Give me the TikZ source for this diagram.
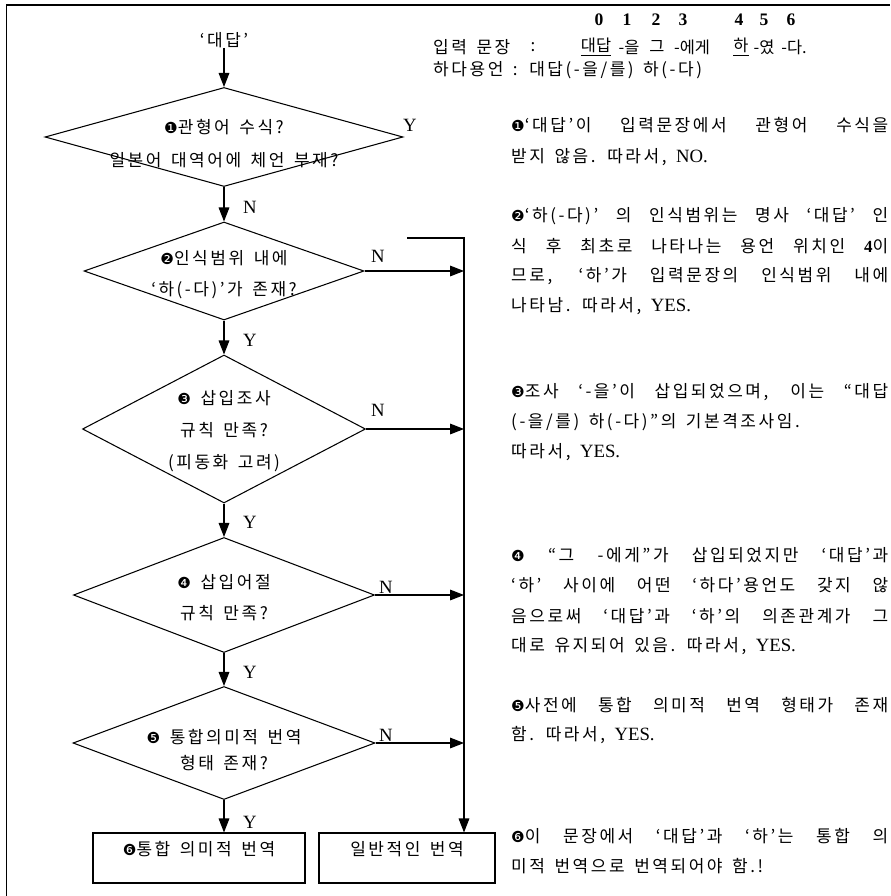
\documentclass[tikz,border=0pt]{standalone}
\usepackage{fontspec}
\setmainfont{Noto Sans CJK KR}[WordSpace=1.5,LetterSpace=15]
\newfontfamily\tm{Liberation Serif}
\newfontfamily\dv{DejaVu Sans}
\usetikzlibrary{positioning,shapes.geometric,arrows.meta}
\newcommand\cn[1]{{\dv\fontsize{13}{14}\selectfont #1}}% circled number
\newcommand\la[1]{{\tm\fontsize{16}{16}\selectfont #1}}% latin words in notes
\newcommand\jl[1]{\makebox[11.31cm][s]{#1}}% justified line

\begin{document}
\begin{tikzpicture}[x=0.03cm,y=-0.03cm,
  every node/.style={inner sep=0pt,font=\fontsize{14.5}{16}\selectfont},
  dec/.style 2 args={draw,diamond,line width=0.9pt,minimum width=#1*0.03cm,minimum height=#2*0.03cm},
  box/.style 2 args={draw,rectangle,line width=0.9pt,minimum width=#1*0.03cm,minimum height=#2*0.03cm},
  arr/.style={-{Triangle[length=0.42cm,width=0.32cm]},line width=0.9pt},
  yn/.style={font=\tm\fontsize{16}{16}\selectfont},
  num/.style={font=\tm\bfseries\fontsize{15}{16}\selectfont},
  tok/.style={font=\fontsize{14}{16}\selectfont\addfontfeature{LetterSpace=0}},
  txt/.style={anchor=west}]
  %% page and frame
  \useasboundingbox (0,0) rectangle (890,896);
  \draw[line width=1.6pt] (6,5) -- (890,5);
  \draw[line width=0.8pt] (6,5) -- (6,896);

  \def\cx{224} % flow axis
  \def\railx{464} % collecting line
  \def\tx{511} % left edge of notes

  %% decisions
  \node (start) at (\cx,40) {‘대답’};
  \node[dec={358}{99}] (d1) at (\cx,137) {};
  \node[dec={280}{98}] (d2) at (\cx,271) {};
  \node[dec={283}{148}] (d3) at (\cx,429) {};
  \node[dec={301}{115}] (d4) at (\cx,595) {};
  \node[dec={302}{113}] (d5) at (\cx,743) {};
  \node[box={212}{50}] (b1) at (199,858) {};
  \node[box={176}{50}] (b2) at (407,858) {};

  \node (d1a) at (\cx,127) {\cn{❶}관형어 수식?};
  \node (d1b) at (\cx,160) {일본어 대역어에 체언 부재?};
  \node (d2a) at (\cx,258) {\cn{❷}인식범위 내에};
  \node (d2b) at (\cx,290) {‘하(-다)’가 존재?};
  \node (d3a) at (\cx,398) {\cn{❸} 삽입조사};
  \node (d3b) at (\cx,430) {규칙 만족?};
  \node (d3c) at (\cx,463) {(피동화 고려)};
  \node (d4a) at (\cx,582) {\cn{❹} 삽입어절};
  \node (d4b) at (\cx,613) {규칙 만족?};
  \node (d5a) at (\cx,737) {\cn{❺} 통합의미적 번역};
  \node (d5b) at (\cx,763) {형태 존재?};
  \node (b1t) at (199,849) {\cn{❻}통합 의미적 번역};
  \node (b2t) at (407,849) {일반적인 번역};

  %% connectors
  \draw[arr] (start.south) -- (d1.north);
  \draw[arr] (d1.south) -- (d2.north);
  \draw[arr] (d2.south) -- (d3.north);
  \draw[arr] (d3.south) -- (d4.north);
  \draw[arr] (d4.south) -- (d5.north);
  \draw[arr] (d5.south) -- (d5.south |- b1.north);
  \coordinate (railfrom) at (407,238);
  \coordinate (railtop) at (\railx,238);
  \draw[arr] (railfrom) -- (railtop) -- (railtop |- b2.north);
  \foreach \d in {d2,d3,d4,d5}
    \draw[arr] (\d.east) -- (\d.east -| railtop);

  \node[yn] (y1) at (410,125) {Y};
  \node[yn] (n1) at (250,207) {N};
  \node[yn] (n2) at (378,256) {N};
  \node[yn] (y2) at (250,340) {Y};
  \node[yn] (n3) at (378,410) {N};
  \node[yn] (y3) at (250,522) {Y};
  \node[yn] (n4) at (386,587) {N};
  \node[yn] (y4) at (250,672) {Y};
  \node[yn] (n5) at (386,735) {N};
  \node[yn] (y5) at (250,822) {Y};

  %% input sentence
  \foreach \x/\n in {599/0,627/1,656/2,683/3,739/4,764/5,791/6}
    \node[num] (c\n) at (\x,20) {\n};
  \node[txt] (inp) at (433,47) {입력 문장};
  \node (colon) at (533,47) {:};
  \foreach \x/\w [count=\i] in {596/{\underline{대답}},629/-을,657/그,692/-에게,741/{\underline{하}},764/-였,794/-다.}
    \node[tok] (w\i) at (\x,47) {\w};
  \node[txt] (hada) at (433,70) {하다용언 : 대답(-을/를) 하(-다)};

  %% notes
  \node[txt] (e1a) at (\tx,125) {\jl{\cn{❶}‘대답’이 입력문장에서 관형어 수식을}};
  \node[txt] (e1b) at (\tx,157) {받지 않음. 따라서, \la{NO.}};
  \node[txt] (e2a) at (\tx,216) {\jl{\cn{❷}‘하(-다)’ 의 인식범위는 명사 ‘대답’ 인}};
  \node[txt] (e2b) at (\tx,246) {\jl{식 후 최초로 나타나는 용언 위치인 {\tm\bfseries 4}이}};
  \node[txt] (e2c) at (\tx,276) {\jl{므로, ‘하’가 입력문장의 인식범위 내에}};
  \node[txt] (e2d) at (\tx,306) {나타남. 따라서, \la{YES.}};
  \node[txt] (e3a) at (\tx,392) {\jl{\cn{❸}조사 ‘-을’이 삽입되었으며, 이는 “대답}};
  \node[txt] (e3b) at (\tx,422) {(-을/를) 하(-다)”의 기본격조사임.};
  \node[txt] (e3c) at (\tx,452) {따라서, \la{YES.}};
  \node[txt] (e4a) at (\tx,555) {\jl{\cn{❹} “그 -에게”가 삽입되었지만 ‘대답’과}};
  \node[txt] (e4b) at (\tx,585) {\jl{‘하’ 사이에 어떤 ‘하다’용언도 갖지 않}};
  \node[txt] (e4c) at (\tx,616) {\jl{음으로써 ‘대답’과 ‘하’의 의존관계가 그}};
  \node[txt] (e4d) at (\tx,646) {대로 유지되어 있음. 따라서, \la{YES.}};
  \node[txt] (e5a) at (\tx,705) {\jl{\cn{❺}사전에 통합 의미적 번역 형태가 존재}};
  \node[txt] (e5b) at (\tx,735) {함. 따라서, \la{YES.}};
  \node[txt] (e6a) at (\tx,836) {\jl{\cn{❻}이 문장에서 ‘대답’과 ‘하’는 통합 의}};
  \node[txt] (e6b) at (\tx,866) {미적 번역으로 번역되어야 함.!};
\end{tikzpicture}
\end{document}
